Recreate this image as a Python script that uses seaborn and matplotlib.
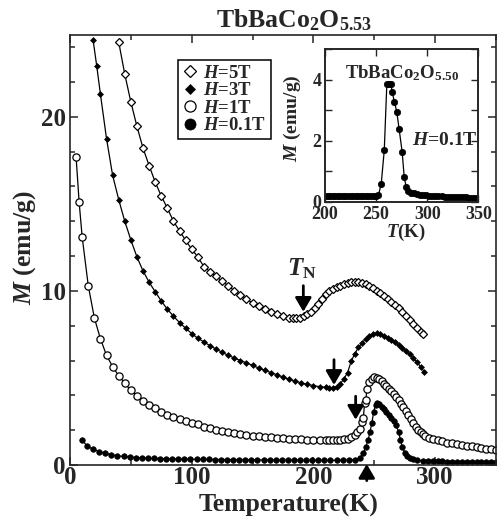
import numpy as np
import pandas as pd
import matplotlib
matplotlib.use("Agg")
import matplotlib.pyplot as plt
from matplotlib.lines import Line2D
from matplotlib.ticker import MultipleLocator
import seaborn as sns

# ---------------- data ----------------
T_5T = [40, 45, 50, 55, 60, 65, 70, 75, 80, 85, 90, 95, 100, 105, 110, 115, 120, 125,
        130, 135, 140, 145, 150, 155, 160, 165, 170, 175, 180, 183, 186, 189, 192, 195,
        198, 201, 204, 207, 210, 213, 216, 219, 222, 225, 228, 231, 234, 237, 240, 243,
        246, 249, 252, 255, 258, 261, 264, 267, 270, 273, 276, 279, 282, 285, 288, 290]
M_5T = [24.3, 22.45, 20.85, 19.45, 18.2, 17.2, 16.25, 15.45, 14.75, 14.0, 13.45, 12.9,
        12.4, 11.95, 11.4, 11.1, 10.85, 10.55, 10.3, 10.0, 9.78, 9.53, 9.3, 9.12, 8.95,
        8.8, 8.66, 8.55, 8.45, 8.43, 8.44, 8.47, 8.55, 8.65, 8.8, 9.0, 9.25, 9.55, 9.8,
        9.98, 10.1, 10.2, 10.3, 10.38, 10.45, 10.5, 10.52, 10.5, 10.45, 10.38, 10.28,
        10.15, 10.02, 9.88, 9.72, 9.55, 9.38, 9.2, 9.0, 8.78, 8.55, 8.32, 8.1, 7.88,
        7.65, 7.53]

T_3T = [19, 22, 25, 30, 35, 40, 45, 50, 55, 60, 65, 70, 75, 80, 85, 90, 95, 100, 105,
        110, 115, 120, 125, 130, 135, 140, 145, 150, 155, 160, 165, 170, 175, 180, 185,
        190, 195, 200, 205, 210, 213, 216, 219, 222, 225, 228, 231, 234, 237, 240, 243,
        246, 249, 252, 255, 258, 261, 264, 267, 270, 273, 276, 279, 282, 285, 288, 291]
M_3T = [24.4, 22.9, 21.3, 18.75, 16.65, 15.25, 14.0, 12.93, 11.95, 11.15, 10.5, 9.95,
        9.42, 8.95, 8.55, 8.18, 7.86, 7.55, 7.28, 7.07, 6.85, 6.66, 6.47, 6.3, 6.14,
        6.0, 5.87, 5.72, 5.57, 5.44, 5.31, 5.18, 5.05, 4.93, 4.82, 4.72, 4.63, 4.56,
        4.5, 4.46, 4.44, 4.44, 4.5, 4.65, 4.95, 5.3, 5.95, 6.4, 6.75, 7.02, 7.25, 7.42,
        7.52, 7.56, 7.52, 7.42, 7.3, 7.18, 7.05, 6.9, 6.74, 6.55, 6.35, 6.13, 5.92,
        5.65, 5.36]

T_1T = [5, 7.5, 10, 15, 20, 25, 30, 35, 40, 45, 50, 55, 60, 65, 70, 75, 80, 85, 90, 95,
        100, 105, 110, 115, 120, 125, 130, 135, 140, 145, 150, 155, 160, 165, 170, 175,
        180, 185, 190, 195, 200, 205, 210, 213, 216, 219, 222, 225, 228, 231, 234, 236,
        238, 240, 241, 242, 243, 244, 246, 248, 250, 252, 254, 256, 258, 260, 262, 264,
        266, 268, 270, 272, 274, 276, 278, 280, 282, 284, 286, 288, 290, 292, 295, 298,
        302, 306, 310, 314, 318, 322, 326, 330, 334, 338, 342, 346, 350]
M_1T = [17.7, 15.1, 13.1, 10.3, 8.45, 7.25, 6.3, 5.65, 5.13, 4.7, 4.28, 3.97, 3.69,
        3.45, 3.26, 3.05, 2.88, 2.74, 2.63, 2.54, 2.44, 2.34, 2.2, 2.1, 2.02, 1.94, 1.87,
        1.81, 1.76, 1.72, 1.68, 1.65, 1.61, 1.58, 1.56, 1.53, 1.51, 1.49, 1.48, 1.46,
        1.45, 1.45, 1.45, 1.45, 1.45, 1.45, 1.46, 1.48, 1.52, 1.6, 1.72, 1.88, 2.05,
        2.45, 2.7, 3.55, 3.75, 4.35, 4.75, 4.95, 5.04, 5.0, 4.93, 4.8, 4.67, 4.53, 4.38,
        4.23, 4.08, 3.9, 3.72, 3.53, 3.33, 3.1, 2.87, 2.63, 2.4, 2.2, 2.02, 1.87, 1.76,
        1.67, 1.57, 1.49, 1.41, 1.35, 1.29, 1.24, 1.2, 1.15, 1.11, 1.07, 1.03, 0.98,
        0.94, 0.91, 0.88]

T_01T = [10, 14, 19, 24, 29, 34, 39, 44, 49, 54, 59, 64, 69, 74, 79, 84, 89, 94, 99,
         104, 109, 114, 119, 124, 129, 134, 139, 144, 149, 154, 159, 164, 169, 174, 179,
         184, 189, 194, 199, 204, 209, 214, 219, 224, 229, 234, 238, 241, 243, 245,
         246.5, 248, 249.5, 251, 252.5, 254, 256, 258, 260, 262, 264, 266, 268, 270,
         271.5, 273, 275, 277, 279, 282, 285, 290, 294, 298, 302, 306, 310, 314, 318,
         322, 326, 330, 334, 338, 342, 346, 350]
M_01T = [1.44, 1.09, 0.9, 0.77, 0.67, 0.59, 0.53, 0.49, 0.46, 0.43, 0.41, 0.39, 0.38,
         0.37, 0.36, 0.35, 0.34, 0.34, 0.33, 0.33, 0.32, 0.32, 0.31, 0.31, 0.31, 0.30,
         0.30, 0.30, 0.29, 0.29, 0.29, 0.29, 0.28, 0.28, 0.28, 0.28, 0.28, 0.27, 0.27,
         0.27, 0.27, 0.27, 0.27, 0.27, 0.28, 0.3, 0.38, 0.67, 1.05, 1.44, 1.92, 2.4,
         3.06, 3.45, 3.55, 3.48, 3.35, 3.22, 3.06, 2.9, 2.7, 2.5, 2.28, 1.9, 1.44, 1.05,
         0.71, 0.5, 0.4, 0.33, 0.28, 0.24, 0.23, 0.22, 0.21, 0.21, 0.2, 0.2, 0.2, 0.19,
         0.19, 0.19, 0.19, 0.18, 0.18, 0.18, 0.18]

T_in = [200, 202.5, 205, 207.5, 210, 212.5, 215, 217.5, 220, 222.5, 225, 227.5, 230,
        232.5, 235, 237.5, 240, 242.5, 245, 247.5, 250, 252.3, 255, 258, 260.5, 262.7,
        264.7, 265.7, 268, 270.3, 272.5, 275.5, 277.5, 279.4, 281.7, 284.3, 287, 290,
        293, 296, 299, 302, 305, 308, 311, 314, 317, 320, 323, 326, 329, 332, 335, 338,
        341, 344, 347, 350]
M_in = [0.19, 0.19, 0.19, 0.19, 0.19, 0.18, 0.18, 0.18, 0.18, 0.18, 0.18, 0.18, 0.18,
        0.18, 0.18, 0.18, 0.18, 0.18, 0.18, 0.18, 0.19, 0.22, 0.58, 1.69, 3.86, 3.86,
        3.86, 3.59, 3.27, 2.93, 2.39, 1.63, 0.81, 0.49, 0.35, 0.3, 0.27, 0.25, 0.23,
        0.22, 0.21, 0.2, 0.19, 0.18, 0.17, 0.17, 0.16, 0.16, 0.15, 0.15, 0.15, 0.14,
        0.14, 0.14, 0.13, 0.13, 0.13, 0.13]

labels = ["$H$=5T", "$H$=3T", "$H$=1T", "$H$=0.1T"]
title_main = "TbBaCo$_2$O$_{5.53}$"
title_inset = "TbBaCo$_2$O$_{5.50}$"

# ---------------- style ----------------
sns.set_style("ticks")
plt.rcParams.update({
    "font.family": ["Liberation Serif", "DejaVu Serif"],
    "font.weight": "bold",
    "mathtext.fontset": "custom",
    "mathtext.rm": "Liberation Serif:bold",
    "mathtext.it": "Liberation Serif:italic:bold",
    "mathtext.bf": "Liberation Serif:bold",
    "axes.linewidth": 1.2,
    "xtick.direction": "in",
    "ytick.direction": "in",
})

fig = plt.figure(figsize=(5.0, 5.21), dpi=100)
ax = fig.add_axes([0.14, 0.1075, 0.852, 0.8253])

series = [
    (T_5T, M_5T, dict(marker="D", markersize=4.3, markerfacecolor="white",
                      markeredgecolor="black", markeredgewidth=0.9)),
    (T_3T, M_3T, dict(marker="D", markersize=3.0, markerfacecolor="black",
                      markeredgecolor="black", markeredgewidth=0.5)),
    (T_1T, M_1T, dict(marker="o", markersize=5.2, markerfacecolor="white",
                      markeredgecolor="black", markeredgewidth=0.9)),
    (T_01T, M_01T, dict(marker="o", markersize=4.0, markerfacecolor="black",
                        markeredgecolor="black", markeredgewidth=0.5)),
]
for T, M, st in series:
    df = pd.DataFrame({"T": T, "M": M})
    sns.lineplot(data=df, x="T", y="M", ax=ax, color="black", lw=0.9,
                 sort=False, errorbar=None, legend=False, **st)

ax.set_xlim(0, 350)
ax.set_ylim(0, 24.7)
ax.xaxis.set_major_locator(MultipleLocator(100))
ax.xaxis.set_minor_locator(MultipleLocator(50))
ax.yaxis.set_major_locator(MultipleLocator(10))
ax.yaxis.set_minor_locator(MultipleLocator(2))
ax.tick_params(which="both", top=True, right=True, width=1.1)
ax.tick_params(which="major", length=6, labelsize=18)
ax.tick_params(which="minor", length=3.5)
ax.tick_params(axis="x", pad=1)
ax.tick_params(axis="y", pad=3)
for lab in ax.get_xticklabels() + ax.get_yticklabels():
    lab.set_fontweight("bold")

ax.set_xlabel("Temperature(K)", fontsize=18.5, fontweight="bold")
ax.set_ylabel("$M$ (emu/g)", fontsize=18.5, fontweight="bold")
ax.xaxis.set_label_coords(0.512, -0.093)
ax.xaxis.label.set_va("center")
ax.yaxis.set_label_coords(-0.106, 0.505)
ax.yaxis.label.set_va("center")

fig.text(0.588, 0.962, title_main, ha="center", va="center", fontsize=18.5,
         fontweight="bold")

# legend (markers only)
handles = [Line2D([], [], linestyle="none", color="black", **st) for _, _, st in series]
handles[0].set_markersize(6.0)
handles[1].set_markersize(5.5)
handles[2].set_markersize(8.0)
handles[3].set_markersize(8.0)
leg = ax.legend(handles, labels, loc="upper left", bbox_to_anchor=(0.2535, 0.942),
                borderaxespad=0, frameon=True, fancybox=False, shadow=False,
                prop={"size": 13.5, "weight": "bold"}, handlelength=0.8,
                handletextpad=0.3, labelspacing=0.02, borderpad=0.25)
leg.get_frame().set_edgecolor("black")
leg.get_frame().set_linewidth(1.1)
leg.get_frame().set_alpha(1)

# T_N arrows
arrow = dict(arrowstyle="-|>,head_length=0.6,head_width=0.35", lw=2.0, color="black",
             shrinkA=0, shrinkB=0, mutation_scale=14)
ax.annotate("", xy=(191.7, 8.8), xytext=(191.7, 10.3), arrowprops=arrow)
ax.annotate("", xy=(216.9, 4.6), xytext=(216.9, 6.05), arrowprops=arrow)
ax.annotate("", xy=(234.7, 2.6), xytext=(234.7, 3.95), arrowprops=arrow)
ax.annotate("", xy=(243.8, 0.06), xytext=(243.8, -0.9), arrowprops=arrow,
            annotation_clip=False)
ax.text(190.4, 11.25, "$T_\\mathrm{N}$", ha="center", va="center", fontsize=18)

# ---------------- inset ----------------
axi = fig.add_axes([0.65, 0.6129, 0.3066, 0.2925])
axi.set_facecolor("white")
for sp in axi.spines.values():
    sp.set_linewidth(1.4)
dfi = pd.DataFrame({"T": T_in, "M": M_in})
sns.lineplot(data=dfi, x="T", y="M", ax=axi, color="black", lw=0.9, sort=False,
             errorbar=None, legend=False, marker="o", markersize=4.6,
             markerfacecolor="black", markeredgecolor="black", markeredgewidth=0.5)
axi.set_xlim(200, 350)
axi.set_ylim(0, 5)
axi.xaxis.set_major_locator(MultipleLocator(50))
axi.yaxis.set_major_locator(MultipleLocator(2))
axi.yaxis.set_minor_locator(MultipleLocator(1))
axi.tick_params(which="both", top=True, right=True, width=1.0)
axi.tick_params(which="major", length=5, labelsize=13)
axi.tick_params(which="minor", length=5)
axi.tick_params(axis="x", pad=3)
axi.tick_params(axis="y", pad=2.5)
for lab in axi.get_xticklabels() + axi.get_yticklabels():
    lab.set_fontweight("bold")
axi.set_xlabel("$T$(K)", fontsize=13.5, fontweight="bold")
axi.set_ylabel("$M$ (emu/g)", fontsize=14, fontweight="bold")
axi.xaxis.set_label_coords(0.525, -0.2)
axi.xaxis.label.set_va("center")
axi.yaxis.set_label_coords(-0.21, 0.55)
axi.yaxis.label.set_va("center")
axi.text(275.8, 4.22, title_inset, ha="center", va="center", fontsize=13.5)
axi.text(285, 2.02, "$H$=0.1T", ha="left", va="center", fontsize=14)

fig.savefig("out.png", dpi=100)
